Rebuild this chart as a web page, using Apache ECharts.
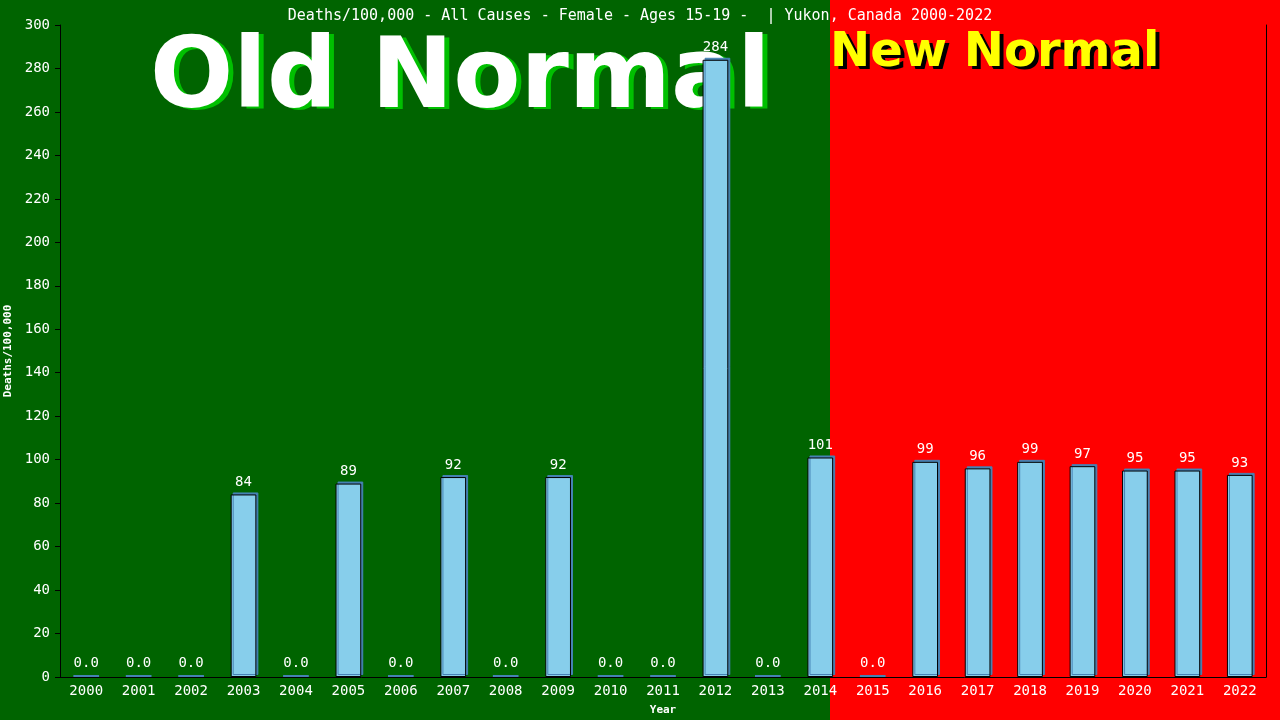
<!DOCTYPE html>
<html>
<head>
<meta charset="utf-8">
<title>Deaths/100,000 - Yukon</title>
<script src="https://cdn.jsdelivr.net/npm/echarts@6/dist/echarts.min.js"></script>
<style>
  html, body { margin: 0; padding: 0; background: #ff0000; }
  #main { width: 1280px; height: 720px; }
</style>
</head>
<body>
<div id="main"></div>
<script>
// data
var years = ['2000','2001','2002','2003','2004','2005','2006','2007','2008','2009','2010','2011',
             '2012','2013','2014','2015','2016','2017','2018','2019','2020','2021','2022'];
var deaths = [0, 0, 0, 84, 0, 89, 0, 92, 0, 92, 0, 0,
              284, 0, 101, 0, 99, 96, 99, 97, 95, 95, 93];
var yTicks = { min: 0, max: 300, interval: 20 };

var titleText = 'Deaths/100,000 - All Causes - Female - Ages 15-19 -  | Yukon, Canada 2000-2022';
var mono = '"DejaVu Sans Mono", "Liberation Mono", monospace';
var sans = '"DejaVu Sans", Verdana, sans-serif';

// zero years show as a thin blue stroke, no black outline
var barData = deaths.map(function (v) {
	if (v === 0) {
		return { value: v, itemStyle: { color: '#4682b4', borderWidth: 0, shadowColor: 'transparent' } };
	}
	return v;
});

var opt = {
	animation: false,
	backgroundColor: '#ff0000',
	title: {
		text: titleText,
		left: 'center',
		top: 4,
		textStyle: { color: '#fff', fontFamily: mono, fontSize: 15, fontWeight: 'normal' }
	},
	graphic: [
		{ type: 'rect', z: -10, left: 0, top: 0, shape: { width: 830, height: 720 }, style: { fill: '#006400' }, silent: true },
		{ type: 'text', z: -5, left: 155, top: 35, style: { text: 'Old Normal', fill: '#00c000', font: 'bold 98px ' + sans } },
		{ type: 'text', z: -4, left: 150, top: 33, style: { text: 'Old Normal', fill: '#ffffff', font: 'bold 98px ' + sans } },
		{ type: 'text', z: -5, left: 834, top: 33, style: { text: 'New Normal', fill: '#000000', font: 'bold 48px ' + sans } },
		{ type: 'text', z: -4, left: 830, top: 30, style: { text: 'New Normal', fill: '#ffff00', font: 'bold 48px ' + sans } }
	],
	grid: { left: 60, right: 14, top: 25, bottom: 43, outerBoundsMode: 'none', containLabel: false },
	xAxis: {
		type: 'category',
		data: years,
		name: 'Year',
		nameLocation: 'middle',
		nameGap: 28,
		nameTextStyle: { color: '#fff', fontFamily: mono, fontSize: 11, fontWeight: 'bold' },
		axisLine: { lineStyle: { color: '#000', width: 1 } },
		axisTick: { show: false },
		axisLabel: { color: '#fff', fontFamily: mono, fontSize: 14, margin: 7, interval: 0 }
	},
	yAxis: [{
		type: 'value',
		min: yTicks.min,
		max: yTicks.max,
		interval: yTicks.interval,
		name: 'Deaths/100,000',
		nameLocation: 'middle',
		nameGap: 40,
		nameTextStyle: { color: '#fff', fontFamily: mono, fontSize: 11, fontWeight: 'bold' },
		axisLine: { show: true, lineStyle: { color: '#000', width: 1 } },
		axisTick: { show: true, length: 5, lineStyle: { color: '#000' } },
		axisLabel: { color: '#fff', fontFamily: mono, fontSize: 14, margin: 10 },
		splitLine: { show: false }
	}, {
		type: 'value',
		position: 'right',
		min: yTicks.min,
		max: yTicks.max,
		interval: yTicks.interval,
		axisLine: { show: true, lineStyle: { color: '#000', width: 1 } },
		axisTick: { show: false },
		axisLabel: { show: false },
		splitLine: { show: false }
	}],
	series: [{
		name: 'Deaths/100,000',
		type: 'bar',
		data: barData,
		barWidth: '49%',
		barMinHeight: 2,
		itemStyle: {
			color: '#87ceeb',
			borderColor: '#000',
			borderWidth: 1,
			shadowColor: '#4682b4',
			shadowOffsetX: 2,
			shadowOffsetY: -2,
			shadowBlur: 0
		},
		label: {
			show: true,
			position: 'top',
			distance: 5,
			color: '#fff',
			fontFamily: mono,
			fontSize: 14,
			formatter: function (p) { return p.value === 0 ? '0.0' : String(p.value); }
		}
	}]
};

var chart = echarts.init(document.getElementById('main'));
chart.setOption(opt);
</script>
</body>
</html>
